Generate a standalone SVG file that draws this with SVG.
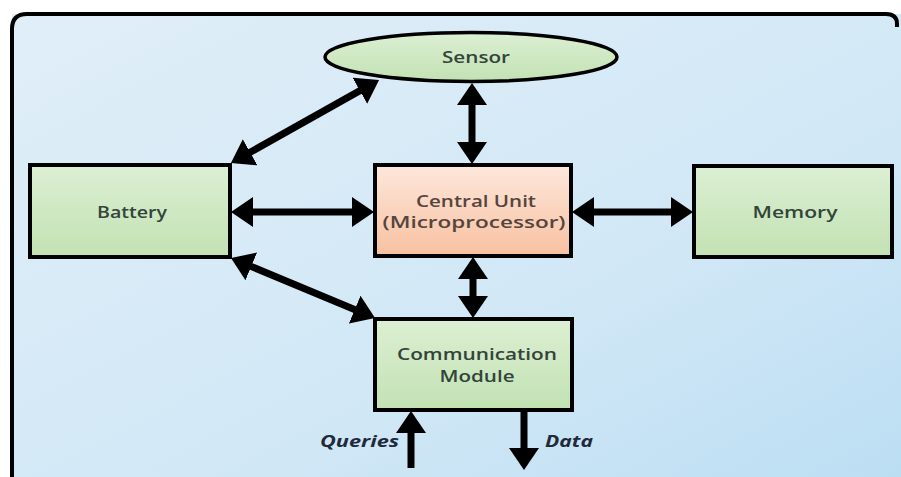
<svg xmlns="http://www.w3.org/2000/svg" width="901" height="477" viewBox="0 0 901 477">
  <style>
    .box { stroke: #000; stroke-width: 4; }
    .green { fill: url(#gGreen); }
    .orange { fill: url(#gOrange); }
    .lbl { font-family: "Open Sans", "DejaVu Sans", sans-serif; font-size: 16px; font-weight: 600; fill: #33443a; text-anchor: middle; }
    .lblc { fill: #55453d; }
    .io { font-family: "Open Sans", "DejaVu Sans", sans-serif; font-size: 16px; font-weight: bold; font-style: italic; fill: #1f2a3a; }
    .conn { stroke: #000; stroke-width: 7; fill: none; }
  </style>
  <defs>
    <linearGradient id="gBg" x1="0" y1="0" x2="1" y2="1">
      <stop offset="0" stop-color="#e0eef8"/>
      <stop offset="0.6" stop-color="#d2e8f6"/>
      <stop offset="1" stop-color="#bcdef3"/>
    </linearGradient>
    <linearGradient id="gGreen" x1="0" y1="0" x2="0" y2="1">
      <stop offset="0" stop-color="#dcefd3"/>
      <stop offset="1" stop-color="#c2e2b3"/>
    </linearGradient>
    <linearGradient id="gOrange" x1="0" y1="0" x2="0" y2="1">
      <stop offset="0" stop-color="#fde8dc"/>
      <stop offset="1" stop-color="#f8c0a0"/>
    </linearGradient>
    <marker id="ah" viewBox="0 -15 22 30" markerUnits="userSpaceOnUse" markerWidth="22" markerHeight="30" refX="16" refY="0" orient="auto-start-reverse">
      <path d="M0,-15 L22,0 L0,15 z" fill="#000"/>
    </marker>
  </defs>

  <rect x="0" y="0" width="901" height="477" fill="#ffffff"/>
  <rect x="12" y="14" width="889" height="463" fill="url(#gBg)"/>
  <path d="M12,477 L12,29 Q12,14 27,14 L886,14 Q897,14 897,24 L897,27" fill="none" stroke="#000" stroke-width="4"/>

  <g id="connectors">
    <line class="conn" x1="472" y1="89" x2="472" y2="158" marker-start="url(#ah)" marker-end="url(#ah)"/>
    <line class="conn" x1="237" y1="212" x2="368" y2="212" marker-start="url(#ah)" marker-end="url(#ah)"/>
    <line class="conn" x1="578" y1="212" x2="687" y2="212" marker-start="url(#ah)" marker-end="url(#ah)"/>
    <line class="conn" x1="473" y1="263" x2="473" y2="312" marker-start="url(#ah)" marker-end="url(#ah)"/>
    <line class="conn" x1="236.2" y1="160.1" x2="373.8" y2="82.9" marker-start="url(#ah)" marker-end="url(#ah)"/>
    <line class="conn" x1="236.5" y1="260.3" x2="369.5" y2="315.7" marker-start="url(#ah)" marker-end="url(#ah)"/>
    <line class="conn" x1="411" y1="468" x2="411" y2="417" marker-end="url(#ah)"/>
    <line class="conn" x1="524" y1="411" x2="524" y2="464" marker-end="url(#ah)"/>
  </g>

  <g id="sensor">
    <ellipse class="green" cx="471" cy="57" rx="146" ry="24.5" stroke="#000" stroke-width="3.5"/>
    <text class="lbl" x="476" y="63" textLength="68" lengthAdjust="spacingAndGlyphs">Sensor</text>
  </g>
  <g id="battery">
    <rect class="box green" x="30" y="165" width="200" height="92"/>
    <text class="lbl" x="132" y="218" textLength="70" lengthAdjust="spacingAndGlyphs">Battery</text>
  </g>
  <g id="central">
    <rect class="box orange" x="375" y="165" width="196" height="91"/>
    <text class="lbl lblc" x="476" y="207" textLength="120" lengthAdjust="spacingAndGlyphs">Central Unit</text>
    <text class="lbl lblc" x="474" y="228" textLength="183" lengthAdjust="spacingAndGlyphs">(Microprocessor)</text>
  </g>
  <g id="memory">
    <rect class="box green" x="694" y="166" width="198" height="91"/>
    <text class="lbl" x="795" y="218" textLength="85" lengthAdjust="spacingAndGlyphs">Memory</text>
  </g>
  <g id="comm">
    <rect class="box green" x="375" y="319" width="197" height="91"/>
    <text class="lbl" x="477" y="360" textLength="160" lengthAdjust="spacingAndGlyphs">Communication</text>
    <text class="lbl" x="477" y="382" textLength="75" lengthAdjust="spacingAndGlyphs">Module</text>
  </g>
  <g id="labels">
    <text class="io" x="399" y="447" text-anchor="end" textLength="79" lengthAdjust="spacingAndGlyphs">Queries</text>
    <text class="io" x="545" y="447" textLength="48" lengthAdjust="spacingAndGlyphs">Data</text>
  </g>
</svg>
